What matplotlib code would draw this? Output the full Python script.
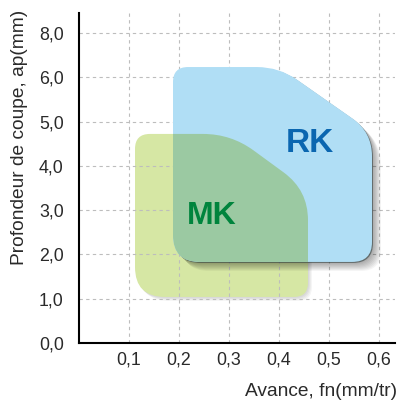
import numpy as np
import matplotlib
matplotlib.use('Agg')
import matplotlib.pyplot as plt
from matplotlib.path import Path
from matplotlib.patches import PathPatch
from matplotlib.transforms import IdentityTransform

plt.rcParams['font.family'] = ['Liberation Sans', 'DejaVu Sans']

# axis ticks
x_ticks = [0.1, 0.2, 0.3, 0.4, 0.5, 0.6]
x_labels = ['0,1', '0,2', '0,3', '0,4', '0,5', '0,6']
y_ticks = [0, 1, 2, 3, 4, 5, 6, 8]
y_labels = ['0,0', '1,0', '2,0', '3,0', '4,0', '5,0', '6,0', '8,0']

# application areas (outline corners: feed fn mm/tr, depth ap mm)
rk_feed = [0.188, 0.586, 0.586, 0.40, 0.188]
rk_depth = [1.83, 1.83, 4.76, 6.46, 6.46]
mk_feed = [0.112, 0.458, 0.458, 0.304, 0.112]
mk_depth = [1.04, 1.04, 3.45, 4.72, 4.72]

rk_round = [27, 20, 24, 22, 15]
mk_round = [30, 14, 30, 28, 15]


def fwd(y):
    y = np.asarray(y, dtype=float)
    return np.where(y <= 6, y, 6 + (y - 6) / 2)


def inv(y):
    y = np.asarray(y, dtype=float)
    return np.where(y <= 6, y, 6 + (y - 6) * 2)


def rounded_path(pts, radii, dx=0, dy=0):
    # pts in display pixels, round every corner
    n = len(pts)
    verts, codes = [], []
    for i in range(n):
        p = pts[i]
        a = pts[i - 1]
        b = pts[(i + 1) % n]
        ua = (a - p) / np.linalg.norm(a - p)
        ub = (b - p) / np.linalg.norm(b - p)
        r = min(radii[i], np.linalg.norm(a - p) / 2, np.linalg.norm(b - p) / 2)
        p1 = p + ua * r
        p2 = p + ub * r
        if i == 0:
            verts.append(p1); codes.append(Path.MOVETO)
        else:
            verts.append(p1); codes.append(Path.LINETO)
        verts += [p, p2]
        codes += [Path.CURVE3, Path.CURVE3]
    verts.append(verts[0]); codes.append(Path.CLOSEPOLY)
    verts = np.array(verts) + np.array([dx, dy])
    return Path(verts, codes)


fig = plt.figure(figsize=(4, 4.01), dpi=100)
ax = fig.add_axes([0.1975, 0.1446, 0.79, 0.823])
ax.set_yscale('function', functions=(fwd, inv))
ax.set_xlim(0, 0.632)
ax.set_ylim(0, 8.9)

ax.set_xticks(x_ticks)
ax.set_xticklabels(x_labels)
ax.set_yticks(y_ticks)
ax.set_yticklabels(y_labels)
ax.yaxis.set_minor_locator(plt.NullLocator())
ax.tick_params(axis='both', length=0, labelsize=12.8, colors='#2a2a2a')
ax.tick_params(axis='y', pad=11)
ax.tick_params(axis='x', pad=6)
ax.grid(True, color='#bdbdbd', linestyle=(0, (3, 3)), linewidth=0.8, zorder=5)
ax.set_axisbelow(False)
for s in ['top', 'right']:
    ax.spines[s].set_visible(False)
for s in ['left', 'bottom']:
    ax.spines[s].set_linewidth(1.5)
    ax.spines[s].set_color('black')
    ax.spines[s].set_zorder(6)

ident = IdentityTransform()
rk_pts = ax.transData.transform(np.column_stack([rk_feed, rk_depth]))
mk_pts = ax.transData.transform(np.column_stack([mk_feed, mk_depth]))

# MK shadow + fill
for k in range(1, 5):
    ax.add_patch(PathPatch(rounded_path(mk_pts, mk_round, k, -k), transform=ident,
                           facecolor='black', edgecolor='none', alpha=0.04, zorder=1))
ax.add_patch(PathPatch(rounded_path(mk_pts, mk_round), transform=ident,
                       facecolor='#d6e7a4', edgecolor='none', zorder=2))

# RK shadow + fill
for k in range(1, 10):
    ax.add_patch(PathPatch(rounded_path(rk_pts, rk_round, k, -k), transform=ident,
                           facecolor='black', edgecolor='none', alpha=0.045, zorder=3))
ax.add_patch(PathPatch(rounded_path(rk_pts, rk_round, 1, -1), transform=ident,
                       facecolor='#2e3d3d', edgecolor='none', alpha=0.55, zorder=3))
rk_path = rounded_path(rk_pts, rk_round)
ax.add_patch(PathPatch(rk_path, transform=ident,
                       facecolor='#b0def5', edgecolor='none', zorder=3.5))

# overlap region (multiplied colours)
ov = PathPatch(rounded_path(mk_pts, mk_round), transform=ident,
               facecolor='#9bc9a2', edgecolor='none', zorder=4)
ov.set_clip_path(rk_path, ident)
ax.add_patch(ov)

ax.text(0.461, 4.50, 'RK', color='#0a66b0', fontsize=24, fontweight='bold',
        ha='center', va='center', zorder=7)
ax.text(0.266, 2.87, 'MK', color='#00843d', fontsize=23, fontweight='bold',
        ha='center', va='center', zorder=7)

fig.text(0.993, 0.0225, 'Avance, fn(mm/tr)', ha='right', va='center',
         fontsize=13.8, color='#2a2a2a')
fig.text(0.05, 0.975, 'Profondeur de coupe, ap(mm)', ha='center', va='top',
         rotation=90, fontsize=13.8, color='#2a2a2a')

fig.savefig('out.png', dpi=100)
